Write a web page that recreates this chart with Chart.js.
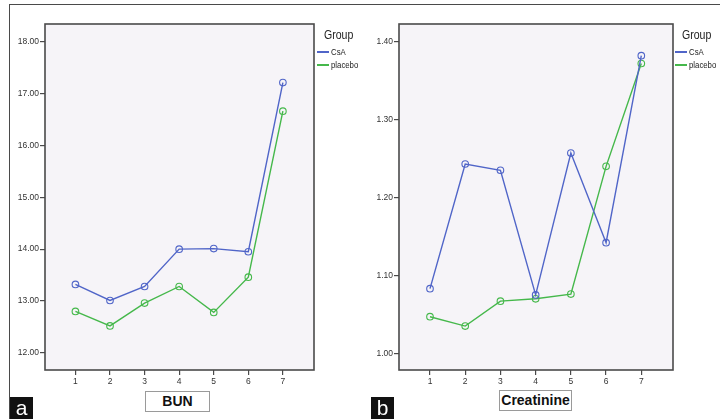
<!DOCTYPE html>
<html>
<head>
<meta charset="utf-8">
<script src="https://cdn.jsdelivr.net/npm/chart.js@4.4.1/dist/chart.umd.min.js"></script>
<style>
    body { margin: 0; background: #fff; }
    #page { position: relative; width: 720px; height: 419px; overflow: hidden; font-family: "Liberation Sans", Arial, sans-serif; }
    .frame-top { position: absolute; left: 10px; top: 4px; width: 710px; height: 0; border-top: 1.5px solid #4a4a4a; }
    .frame-left { position: absolute; left: 9px; top: 4px; width: 0; height: 415px; border-left: 1.5px solid #4a4a4a; }
    .panel { position: absolute; top: 0; width: 360px; height: 419px; }
    .legend { position: absolute; color: #222; }
    .legend .title { font-size: 12px; margin-bottom: 3px; margin-left: 7px; transform: scaleX(0.88); transform-origin: left; }
    .legend .row { display: flex; align-items: center; height: 13px; }
    .legend .swatch { width: 12px; height: 2px; margin-right: 2px; }
    .legend .txt { font-size: 9.5px; display: inline-block; transform: scaleX(0.82); transform-origin: left; white-space: nowrap; }
    .namebox { position: absolute; border: 1px solid #9a9a9a; background: #fff; font-weight: bold; font-size: 14px; text-align: center; line-height: 18px; color: #111; }
    .tag { position: absolute; background: #111; color: #fff; font-size: 21px; text-align: center; line-height: 21px; }
</style>
</head>
<body>
<div id="page">
    <div class="frame-top"></div>
    <div class="frame-left"></div>

    <div class="panel" style="left:0"><canvas id="bunChart"></canvas></div>
    <div class="panel" style="left:360px"><canvas id="creatChart"></canvas></div>

    <div class="legend" id="legendA" style="left:317px; top:28px"></div>
    <div class="legend" id="legendB" style="left:675px; top:28px"></div>

    <div class="namebox" style="left:145px; top:391px; width:63px; height:19px">BUN</div>
    <div class="namebox" style="left:499px; top:390px; width:71px; height:19px">Creatinine</div>

    <div class="tag" style="left:10px; top:397px; width:23px; height:22px">a</div>
    <div class="tag" style="left:371px; top:397px; width:23px; height:22px">b</div>
</div>

<script>
// time points
const timePoints = [1, 2, 3, 4, 5, 6, 7];

// BUN means
const bunCsA = [13.32, 13.01, 13.28, 14.00, 14.01, 13.95, 17.21];
const bunPlacebo = [12.80, 12.52, 12.96, 13.28, 12.78, 13.46, 16.66];
const bunTicks = [12, 13, 14, 15, 16, 17, 18];

// Creatinine means
const creatCsA = [1.083, 1.243, 1.235, 1.075, 1.257, 1.142, 1.382];
const creatPlacebo = [1.047, 1.035, 1.067, 1.070, 1.076, 1.240, 1.372];
const creatTicks = [1.00, 1.10, 1.20, 1.30, 1.40];

const groupNames = ['CsA', 'placebo'];
const groupColors = ['#5065c8', '#45b84b'];

const tickFont = { family: '"Liberation Sans", Arial, sans-serif', size: 8.5 };

// legends (SPSS style, "Group" title)
['legendA', 'legendB'].forEach(id => {
    let html = '<div class="title">Group</div>';
    groupNames.forEach((name, i) => {
        html += `<div class="row"><span class="swatch" style="background:${groupColors[i]}"></span><span class="txt">${name}</span></div>`;
    });
    document.getElementById(id).innerHTML = html;
});

// plot background + box border
const plotBox = {
    id: 'plotBox',
    beforeDatasetsDraw(chart) {
        const a = chart.chartArea, ctx = chart.ctx;
        ctx.save();
        ctx.fillStyle = '#f6f4f8';
        ctx.fillRect(a.left, a.top, a.right - a.left, a.bottom - a.top);
        ctx.restore();
    },
    afterDatasetsDraw(chart) {
        const a = chart.chartArea, ctx = chart.ctx;
        ctx.save();
        ctx.strokeStyle = '#4a4a4a';
        ctx.lineWidth = 1.6;
        ctx.strokeRect(a.left, a.top, a.right - a.left, a.bottom - a.top);
        ctx.restore();
    }
};

function makeSeries(values, i) {
    return {
        label: groupNames[i],
        data: timePoints.map((t, k) => ({ x: t, y: values[k] })),
        borderColor: groupColors[i],
        backgroundColor: 'rgba(0,0,0,0)',
        borderWidth: 1.4,
        pointRadius: 3.3,
        pointBorderWidth: 1.1,
        pointBorderColor: groupColors[i],
        pointBackgroundColor: 'rgba(0,0,0,0)',
        tension: 0
    };
}

function makeChart(id, csa, placebo, ticks, yMin, yMax, axisWidth, rightPad) {
    return new Chart(document.getElementById(id), {
        type: 'line',
        data: { datasets: [makeSeries(csa, 0), makeSeries(placebo, 1)] },
        options: {
            responsive: true,
            maintainAspectRatio: false,
            animation: false,
            layout: { padding: { top: 24, right: rightPad, bottom: 0, left: 0 } },
            plugins: { legend: { display: false }, tooltip: { enabled: false } },
            scales: {
                x: {
                    type: 'linear',
                    min: 0.12,
                    max: 7.9,
                    afterBuildTicks: s => { s.ticks = timePoints.map(v => ({ value: v })); },
                    afterFit: s => { s.height = 49; },
                    ticks: { color: '#333', font: tickFont, padding: 2, maxRotation: 0,
                             callback: v => String(v) },
                    grid: { drawOnChartArea: false, drawTicks: true, tickLength: 5, color: '#4a4a4a', lineWidth: 1.2 },
                    border: { display: false }
                },
                y: {
                    min: yMin,
                    max: yMax,
                    afterBuildTicks: s => { s.ticks = ticks.map(v => ({ value: v })); },
                    afterFit: s => { s.width = axisWidth; },
                    ticks: { color: '#333', font: tickFont, padding: 1,
                             callback: v => Number(v).toFixed(2) },
                    grid: { drawOnChartArea: false, drawTicks: true, tickLength: 5, color: '#4a4a4a', lineWidth: 1.2 },
                    border: { display: false }
                }
            }
        },
        plugins: [plotBox]
    });
}

makeChart('bunChart', bunCsA, bunPlacebo, bunTicks, 11.67, 18.34, 45, 46);
makeChart('creatChart', creatCsA, creatPlacebo, creatTicks, 0.9786, 1.4227, 39, 47);
</script>
</body>
</html>
